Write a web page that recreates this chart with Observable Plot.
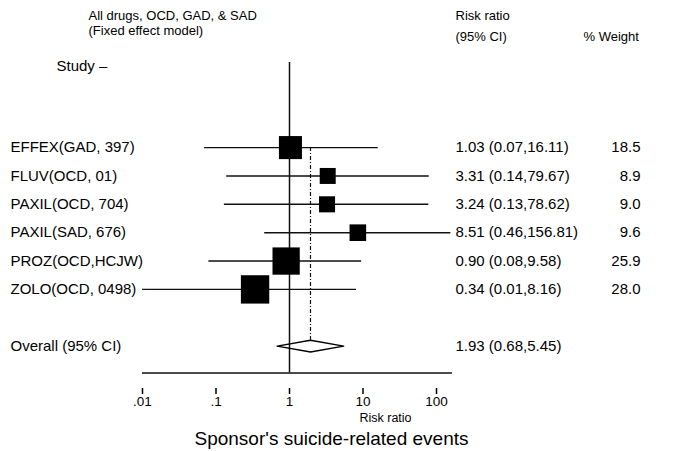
<!DOCTYPE html>
<html>
<head>
<meta charset="utf-8">
<script src="https://cdn.jsdelivr.net/npm/d3@7"></script>
<script src="https://cdn.jsdelivr.net/npm/@observablehq/plot@0.6"></script>
<style>
  html, body { margin: 0; padding: 0; background: #fff; }
  #chart svg { display: block; }
</style>
</head>
<body>
<div id="chart"></div>
<script>
// ---- data ----
const studies = ["EFFEX(GAD, 397)", "FLUV(OCD, 01)", "PAXIL(OCD, 704)", "PAXIL(SAD, 676)", "PROZ(OCD,HCJW)", "ZOLO(OCD, 0498)"];
const riskRatio = [1.03, 3.31, 3.24, 8.51, 0.90, 0.34];
const ciLow = [0.07, 0.14, 0.13, 0.46, 0.08, 0.01];
const ciHigh = [16.11, 79.67, 78.62, 156.81, 9.58, 8.16];
const weights = [18.5, 8.9, 9.0, 9.6, 25.9, 28.0];
const overallLabel = "Overall (95% CI)";
const overallRR = 1.93;
const overallLow = 0.68;
const overallHigh = 5.45;
const tickValues = [0.01, 0.1, 1, 10, 100];
const tickLabels = [".01", ".1", "1", "10", "100"];
const axisEnd = 165;
const titleLines = ["All drugs, OCD, GAD, & SAD", "(Fixed effect model)"];
const ciHeader = ["Risk ratio", "(95% CI)"];
const weightHeader = "% Weight";
const studyHeader = "Study \u2013";
const axisLabel = "Risk ratio";
const caption = "Sponsor's suicide-related events";

// ---- table ----
const rows = studies.map((s, i) => ({
  study: s, row: i, rr: riskRatio[i], lo: ciLow[i], hi: ciHigh[i], w: weights[i],
  ci: `${riskRatio[i].toFixed(2)} (${ciLow[i].toFixed(2)},${ciHigh[i].toFixed(2)})`,
  wt: weights[i].toFixed(1)
}));
const overallRow = studies.length + 1;
const overall = [{study: overallLabel, row: overallRow, rr: overallRR, lo: overallLow, hi: overallHigh,
  ci: `${overallRR.toFixed(2)} (${overallLow.toFixed(2)},${overallHigh.toFixed(2)})`}];
const dh = 0.21;
const diamond = [
  {x: overallLow, y: overallRow}, {x: overallRR, y: overallRow - dh},
  {x: overallHigh, y: overallRow}, {x: overallRR, y: overallRow + dh},
  {x: overallLow, y: overallRow}
];
const topRow = -3;
const axisRow = 7.95;

const font = "Liberation Sans, Arial, Helvetica, sans-serif";
const fs = 15;
const hs = 13;

const txt = (s, opts) => Plot.text([s], {text: d => d, frameAnchor: "top-left", lineAnchor: "middle", textAnchor: "start", ...opts});

const chart = Plot.plot({
  width: 682,
  height: 451,
  marginLeft: 0, marginRight: 0, marginTop: 0, marginBottom: 63,
  style: {fontFamily: font, fontSize: fs + "px", color: "#000", background: "#fff"},
  x: {type: "log", domain: [0.01, 100], range: [142, 436]},
  y: {type: "linear", domain: [-3, 8], range: [62, 374], axis: null},
  r: {type: "sqrt", domain: [0, 28], range: [0, 16]},
  marks: [
    // x axis: short ticks detached below the axis line, then labels
    Plot.axisX({
      ticks: tickValues, tickSize: 6, tickPadding: 2,
      tickFormat: d => tickLabels[tickValues.indexOf(d)],
      fontSize: 13.5, label: null, stroke: "#000", strokeWidth: 1.5
    }),
    Plot.ruleY([axisRow], {x1: tickValues[0], x2: axisEnd, stroke: "#111", strokeWidth: 1.5}),
    // reference line at 1
    Plot.ruleX([1], {y1: topRow, y2: axisRow, stroke: "#111", strokeWidth: 1.5}),
    // pooled estimate dashed line
    Plot.ruleX(overall, {x: "rr", y1: 0, y2: overallRow - dh, stroke: "#111", strokeWidth: 1.2, strokeDasharray: "4,2,1,2"}),
    // CIs
    Plot.ruleY(rows, {y: "row", x1: "lo", x2: "hi", stroke: "#111", strokeWidth: 1.4}),
    // boxes
    Plot.dot(rows, {x: "rr", y: "row", r: "w", symbol: "square", fill: "#000", stroke: null}),
    // diamond
    Plot.line(diamond, {x: "x", y: "y", stroke: "#000", strokeWidth: 1.5, fill: "none"}),
    // study labels
    Plot.text(rows.concat(overall), {y: "row", text: "study", frameAnchor: "left", dx: 10, textAnchor: "start", fontSize: fs}),
    // CI text
    Plot.text(rows.concat(overall), {y: "row", text: "ci", frameAnchor: "left", dx: 455, textAnchor: "start", fontSize: fs}),
    // weight text
    Plot.text(rows, {y: "row", text: "wt", frameAnchor: "left", dx: 640, textAnchor: "end", fontSize: fs}),
    // headers
    txt(titleLines[0], {dx: 88, dy: 15, fontSize: hs}),
    txt(titleLines[1], {dx: 88, dy: 30, fontSize: hs}),
    txt(ciHeader[0], {dx: 455, dy: 15, fontSize: hs}),
    txt(ciHeader[1], {dx: 455, dy: 36, fontSize: hs}),
    txt(weightHeader, {dx: 583, dy: 36, fontSize: hs}),
    txt(studyHeader, {dx: 56, dy: 66, fontSize: fs}),
    // axis label & caption
    txt(axisLabel, {dx: 385, dy: 417, textAnchor: "middle", fontSize: 12.5}),
    txt(caption, {dx: 331, dy: 438, textAnchor: "middle", fontSize: 19})
  ]
});
document.getElementById("chart").appendChild(chart);
</script>
</body>
</html>
